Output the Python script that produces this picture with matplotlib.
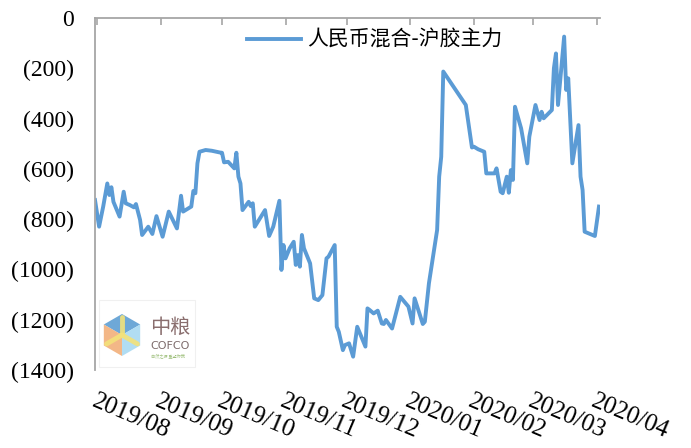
import matplotlib
matplotlib.use("Agg")
import matplotlib.pyplot as plt
from matplotlib.patches import Polygon, Rectangle
from matplotlib.ticker import FuncFormatter
import pandas as pd
import math

# ---------------- data ----------------
dates = ["2019-07-31", "2019-08-02", "2019-08-04", "2019-08-06", "2019-08-07", "2019-08-08", "2019-08-09",
         "2019-08-12", "2019-08-14", "2019-08-15", "2019-08-17", "2019-08-19", "2019-08-20", "2019-08-22",
         "2019-08-23", "2019-08-26", "2019-08-28", "2019-08-30",
         "2019-09-02", "2019-09-05", "2019-09-09", "2019-09-11", "2019-09-12", "2019-09-16", "2019-09-17",
         "2019-09-18", "2019-09-19", "2019-09-20", "2019-09-23", "2019-09-26", "2019-09-30",
         "2019-10-01", "2019-10-02", "2019-10-04", "2019-10-07", "2019-10-08", "2019-10-09", "2019-10-10",
         "2019-10-11", "2019-10-14", "2019-10-15", "2019-10-16", "2019-10-17", "2019-10-22", "2019-10-24",
         "2019-10-26", "2019-10-29", "2019-10-30", "2019-10-31",
         "2019-11-01", "2019-11-03", "2019-11-05", "2019-11-06", "2019-11-07", "2019-11-08", "2019-11-09",
         "2019-11-10", "2019-11-13", "2019-11-15", "2019-11-17", "2019-11-19", "2019-11-21", "2019-11-22",
         "2019-11-25", "2019-11-26", "2019-11-27", "2019-11-29", "2019-11-30",
         "2019-12-02", "2019-12-04", "2019-12-06", "2019-12-08", "2019-12-10", "2019-12-11", "2019-12-12",
         "2019-12-14", "2019-12-16", "2019-12-18", "2019-12-19", "2019-12-20", "2019-12-23", "2019-12-27",
         "2019-12-31",
         "2020-01-02", "2020-01-03", "2020-01-07", "2020-01-08", "2020-01-10", "2020-01-14", "2020-01-15",
         "2020-01-16", "2020-01-17", "2020-01-28", "2020-01-31",
         "2020-02-01", "2020-02-03", "2020-02-06", "2020-02-07", "2020-02-11", "2020-02-12", "2020-02-14",
         "2020-02-15", "2020-02-17", "2020-02-18", "2020-02-19", "2020-02-20", "2020-02-21", "2020-02-24",
         "2020-02-27", "2020-02-28",
         "2020-03-02", "2020-03-04", "2020-03-05", "2020-03-06", "2020-03-10", "2020-03-11", "2020-03-12",
         "2020-03-13", "2020-03-16", "2020-03-17", "2020-03-18", "2020-03-20", "2020-03-23", "2020-03-24",
         "2020-03-25", "2020-03-26", "2020-03-31", "2020-04-02"]

spread = [-724, -830, -750, -658, -704, -673, -731, -790, -691, -737, -744, -753, -740, -803, -863, -830, -859, -788,
          -870, -770, -837, -707, -770, -750, -688, -697, -578, -532, -525, -528, -535,
          -536, -574, -572, -598, -536, -631, -658, -764, -731, -748, -737, -830, -764, -867, -830, -727, -1002, -903,
          -956, -916, -890, -982, -943, -989, -863, -916, -976, -1115, -1122, -1102, -956, -949, -903, -1228, -1248,
          -1321, -1301,
          -1294, -1347, -1228, -1268, -1307, -1155, -1161, -1175, -1164, -1215, -1217, -1201, -1235, -1109, -1148,
          -1215, -1115, -1217, -1208, -1055, -843, -631, -552, -213, -346, -515,
          -512, -522, -532, -618, -618, -598, -691, -697, -631, -695, -605, -644, -353, -439, -578, -472,
          -346, -406, -373, -399, -366, -200, -141, -346, -74, -286, -240, -578, -426, -631, -684, -850, -867, -750]

series_label = "人民币混合-沪胶主力"
month_ticks = ["2019-08-01", "2019-09-01", "2019-10-01", "2019-11-01", "2019-12-01",
               "2020-01-01", "2020-02-01", "2020-03-01", "2020-04-01"]
month_labels = ["2019/08", "2019/09", "2019/10", "2019/11", "2019/12",
                "2020/01", "2020/02", "2020/03", "2020/04"]
y_ticks = [0, -200, -400, -600, -800, -1000, -1200, -1400]

# ---------------- figure ----------------
W, H = 691, 448
fig = plt.figure(figsize=(W / 100, H / 100), dpi=100)
fig.patch.set_facecolor("white")


def fx(px):
    return px / W


def fy(py):
    return 1 - py / H


ax = fig.add_axes([fx(95), fy(370), fx(600) - fx(95), fy(18) - fy(370)])

x = pd.to_datetime(dates)
line, = ax.plot(x, spread, color="#5B9BD5", lw=2.8, solid_joinstyle="round", label=series_label)

ax.set_xlim(pd.Timestamp("2019-07-31"), pd.Timestamp("2020-04-02 12:00"))
ax.set_ylim(-1400, 0)

ax.set_yticks(y_ticks)
ax.yaxis.set_major_formatter(FuncFormatter(lambda v, p: "0" if v == 0 else f"({abs(int(v))})"))

ax.set_xticks(pd.to_datetime(month_ticks))
ax.set_xticklabels(month_labels)

for s in ["right", "bottom"]:
    ax.spines[s].set_visible(False)
for s in ["left", "top"]:
    ax.spines[s].set_color("#A6A6A6")
    ax.spines[s].set_linewidth(1.3)

ax.tick_params(axis="y", length=0, pad=15, labelsize=17, labelfontfamily="Liberation Serif", labelcolor="#000000")
ax.tick_params(axis="x", bottom=False, top=True, labelbottom=True, labeltop=False,
               direction="in", length=5, width=1.2, color="#A6A6A6", pad=15,
               labelsize=18, labelfontfamily="Liberation Serif")
for lab in ax.get_xticklabels():
    lab.set_rotation(-23)
    lab.set_ha("left")
    lab.set_va("top")
    lab.set_rotation_mode("anchor")

leg = ax.legend(handles=[line], loc="center", bbox_to_anchor=(fx(375), fy(40)),
                bbox_transform=fig.transFigure, frameon=False, handlelength=2.6,
                handletextpad=0.3, prop={"family": ["Noto Sans CJK SC", "DejaVu Sans"], "size": 15})

# ---------------- COFCO logo (watermark) ----------------
fig.patches.append(Rectangle((fx(99), fy(367)), fx(195) - fx(99), fy(300) - fy(367),
                             transform=fig.transFigure, facecolor="white", edgecolor="#F0F0F0", lw=0.8))
cx, cy, r = 122, 335, 21
hexpts = [(cx + r * math.cos(math.radians(a)), cy - r * math.sin(math.radians(a))) for a in (90, 30, -30, -90, -150, 150)]
c = (cx, cy)
faces = [
    ([hexpts[5], hexpts[0], hexpts[1], c], "#5E9FD3"),
    ([hexpts[1], hexpts[2], hexpts[3], c], "#A9DAF2"),
    ([hexpts[3], hexpts[4], hexpts[5], c], "#F2B07A"),
]
for pts, col in faces:
    fig.patches.append(Polygon([(fx(px), fy(py)) for px, py in pts], closed=True,
                               transform=fig.transFigure, facecolor=col, edgecolor="none", alpha=0.9))
for a in (90, -30, -150):
    ex, ey = cx + 0.85 * r * math.cos(math.radians(a)), cy - 0.85 * r * math.sin(math.radians(a))
    fig.lines.append(plt.Line2D([fx(cx), fx(ex)], [fy(cy), fy(ey)], transform=fig.transFigure,
                                color="#F3E27A", lw=3.5, alpha=0.9, solid_capstyle="round"))
fig.text(fx(150), fy(327), "中粮", family=["Noto Sans CJK SC", "DejaVu Sans"], fontsize=14.5,
         color="#8A6E6E", ha="left", va="center")
fig.text(fx(150), fy(346), "COFCO", family="DejaVu Sans", fontsize=8, color="#7D6B6B",
         ha="left", va="center")
fig.text(fx(151), fy(356), "自然之源 重塑你我", family=["Noto Sans CJK SC", "DejaVu Sans"], fontsize=3,
         color="#9DBF7A", ha="left", va="center")

fig.savefig("out.png", dpi=100, facecolor="white")
